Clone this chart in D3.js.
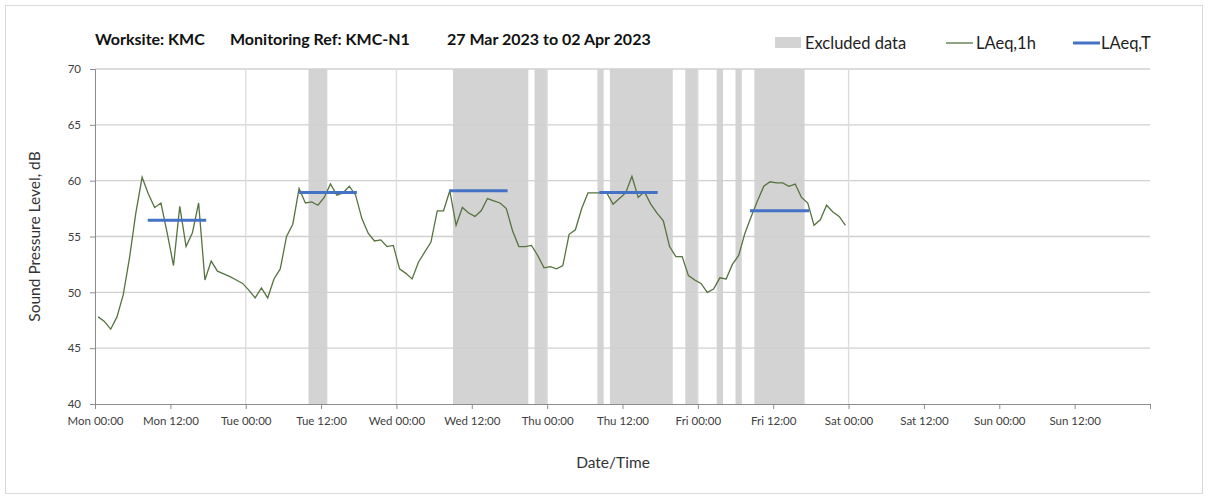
<!DOCTYPE html>
<html>
<head>
<meta charset="utf-8">
<script src="https://cdn.jsdelivr.net/npm/d3@7"></script>
<style>
  body { margin: 0; background: #fff; }
  text { font-family: Lato, "Open Sans", sans-serif; }
</style>
</head>
<body>
<div id="chart"></div>
<script>
// hourly LAeq,1h values, Mon 00:00 onwards (one per hour)
const laeq1h = [
  47.8, 47.4, 46.7, 47.8, 49.8, 53.1, 57.1, 60.3, 58.8, 57.6,
  58.0, 55.3, 52.4, 57.7, 54.1, 55.3, 58.0, 51.1, 52.8, 51.9,
  51.65, 51.4, 51.1, 50.8, 50.2, 49.5, 50.4, 49.5, 51.2, 52.1,
  55.0, 56.1, 59.3, 58.0, 58.1, 57.8, 58.5, 59.7, 58.7, 58.9,
  59.5, 58.7, 56.6, 55.3, 54.6, 54.7, 54.1, 54.2, 52.1, 51.7,
  51.2, 52.7, 53.6, 54.5, 57.3, 57.3, 59.1, 56.0, 57.6, 57.1,
  56.8, 57.3, 58.4, 58.2, 58.0, 57.5, 55.5, 54.1, 54.1, 54.2,
  53.3, 52.2, 52.3, 52.1, 52.4, 55.2, 55.6, 57.5, 58.9, 58.9,
  58.9, 58.9, 57.9, 58.4, 58.9, 60.4, 58.5, 59.0, 57.9, 57.1,
  56.4, 54.1, 53.2, 53.2, 51.5, 51.1, 50.8, 50.0, 50.3, 51.3,
  51.2, 52.5, 53.3, 55.3, 56.8, 58.2, 59.5, 59.9, 59.8, 59.8,
  59.5, 59.7, 58.5, 58.0, 56.0, 56.5, 57.8, 57.2, 56.8, 56.0
];

// LAeq,T daytime periods (hours from Mon 00:00)
const ltStart = [8.4, 32.5, 56.4, 80.3, 104.3];
const ltEnd   = [17.7, 41.7, 65.7, 89.6, 113.7];
const ltValue = [56.45, 58.95, 59.1, 58.95, 57.3];

// excluded periods (hours from Mon 00:00)
const exStart = [34, 57, 70, 80, 82, 94, 99, 102, 105];
const exEnd   = [37, 69, 72, 81, 92, 96, 100, 103, 113];

const yTicks = [40, 45, 50, 55, 60, 65, 70];

const W = 1208, H = 497;
const M = { top: 69, right: 58, bottom: 93, left: 95 };
const HOUR = 3600 * 1000;
const t0 = Date.UTC(2023, 2, 27);
const hr = h => new Date(t0 + h * HOUR);

const svg = d3.select('#chart').append('svg')
  .attr('width', W)
  .attr('height', H);

// outer frame
svg.append('rect')
  .attr('x', 5.5).attr('y', 5.5)
  .attr('width', W - 11).attr('height', H - 9)
  .attr('fill', 'none')
  .attr('stroke', '#d9d9d9');

const x = d3.scaleUtc().domain([hr(0), hr(168)]).range([M.left, W - M.right]);
const y = d3.scaleLinear().domain([40, 70]).range([H - M.bottom, M.top]);

// excluded bands
svg.append('g').selectAll('rect')
  .data(exStart.map((s, i) => [s, exEnd[i]]))
  .join('rect')
    .attr('x', d => x(hr(d[0])))
    .attr('width', d => x(hr(d[1])) - x(hr(d[0])))
    .attr('y', y(70))
    .attr('height', y(40) - y(70))
    .attr('fill', '#d3d3d3');

// gridlines
svg.append('g').selectAll('line')
  .data(yTicks.filter(d => d > 40))
  .join('line')
    .attr('x1', x(hr(0))).attr('x2', x(hr(168)))
    .attr('y1', d => y(d)).attr('y2', d => y(d))
    .attr('stroke', '#d0d0d0')
    .attr('stroke-width', 1.3);

svg.append('g').selectAll('line')
  .data([24, 48, 72, 96, 120])
  .join('line')
    .attr('x1', d => x(hr(d))).attr('x2', d => x(hr(d)))
    .attr('y1', y(70)).attr('y2', y(40))
    .attr('stroke', '#dcdcdc')
    .attr('stroke-width', 1.3);

// axes
const fmt = d3.utcFormat('%a %H:%M');
const xAxis = svg.append('g')
  .attr('transform', 'translate(0,' + y(40) + ')')
  .call(d3.axisBottom(x)
    .tickValues(d3.range(0, 169, 12).map(hr))
    .tickSize(5)
    .tickFormat(d => +d === +hr(168) ? '' : fmt(d)));
xAxis.select('.domain').attr('stroke', '#8c8c8c');
xAxis.selectAll('.tick line').attr('stroke', '#8c8c8c');
xAxis.selectAll('.tick text')
  .attr('dy', '1.15em')
  .style('font-size', '11.5px')
  .attr('fill', '#404040');

const yAxis = svg.append('g')
  .attr('transform', 'translate(' + M.left + ',0)')
  .call(d3.axisLeft(y).tickValues(yTicks).tickSize(5).tickPadding(9));
yAxis.select('.domain').attr('stroke', '#8c8c8c');
yAxis.selectAll('.tick line').attr('stroke', '#8c8c8c');
yAxis.selectAll('.tick text')
  .style('font-size', '11.5px')
  .attr('fill', '#404040');

// LAeq,1h line
const line = d3.line()
  .x((d, i) => x(hr(i + 0.5)))
  .y(d => y(d));
svg.append('path').datum(laeq1h)
  .attr('fill', 'none')
  .attr('stroke', '#56733f')
  .attr('stroke-width', 1.3)
  .attr('d', line);

// LAeq,T segments
svg.append('g').selectAll('line')
  .data(ltValue.map((v, i) => ({ s: ltStart[i], e: ltEnd[i], v: v })))
  .join('line')
    .attr('x1', d => x(hr(d.s))).attr('x2', d => x(hr(d.e)))
    .attr('y1', d => y(d.v)).attr('y2', d => y(d.v))
    .attr('stroke', '#4472c4')
    .attr('stroke-width', 3);

// title
const title = svg.append('text')
  .attr('y', 45)
  .style('font-size', '16px')
  .style('font-weight', 'bold')
  .attr('fill', '#111');
title.append('tspan').attr('x', 95).text('Worksite: KMC');
title.append('tspan').attr('x', 230).text('Monitoring Ref: KMC-N1');
title.append('tspan').attr('x', 447).text('27 Mar 2023 to 02 Apr 2023');

// legend
const lg = svg.append('g').style('font-size', '16.5px').attr('fill', '#222');
lg.append('rect')
  .attr('x', 775).attr('y', 37).attr('width', 26).attr('height', 11)
  .attr('fill', '#d3d3d3');
lg.append('text').attr('x', 805).attr('y', 49).text('Excluded data');
lg.append('line')
  .attr('x1', 946).attr('x2', 973).attr('y1', 43).attr('y2', 43)
  .attr('stroke', '#56733f').attr('stroke-width', 1.3);
lg.append('text').attr('x', 976).attr('y', 49).text('LAeq,1h');
lg.append('line')
  .attr('x1', 1073).attr('x2', 1100).attr('y1', 43).attr('y2', 43)
  .attr('stroke', '#4472c4').attr('stroke-width', 3);
lg.append('text').attr('x', 1101).attr('y', 49).text('LAeq,T');

// axis titles
svg.append('text')
  .attr('transform', 'translate(40,' + ((y(40) + y(70)) / 2) + ') rotate(-90)')
  .attr('text-anchor', 'middle')
  .style('font-size', '15.5px')
  .attr('fill', '#333')
  .text('Sound Pressure Level, dB');

svg.append('text')
  .attr('x', 613).attr('y', 468)
  .attr('text-anchor', 'middle')
  .style('font-size', '15.5px')
  .attr('fill', '#333')
  .text('Date/Time');
</script>
</body>
</html>
